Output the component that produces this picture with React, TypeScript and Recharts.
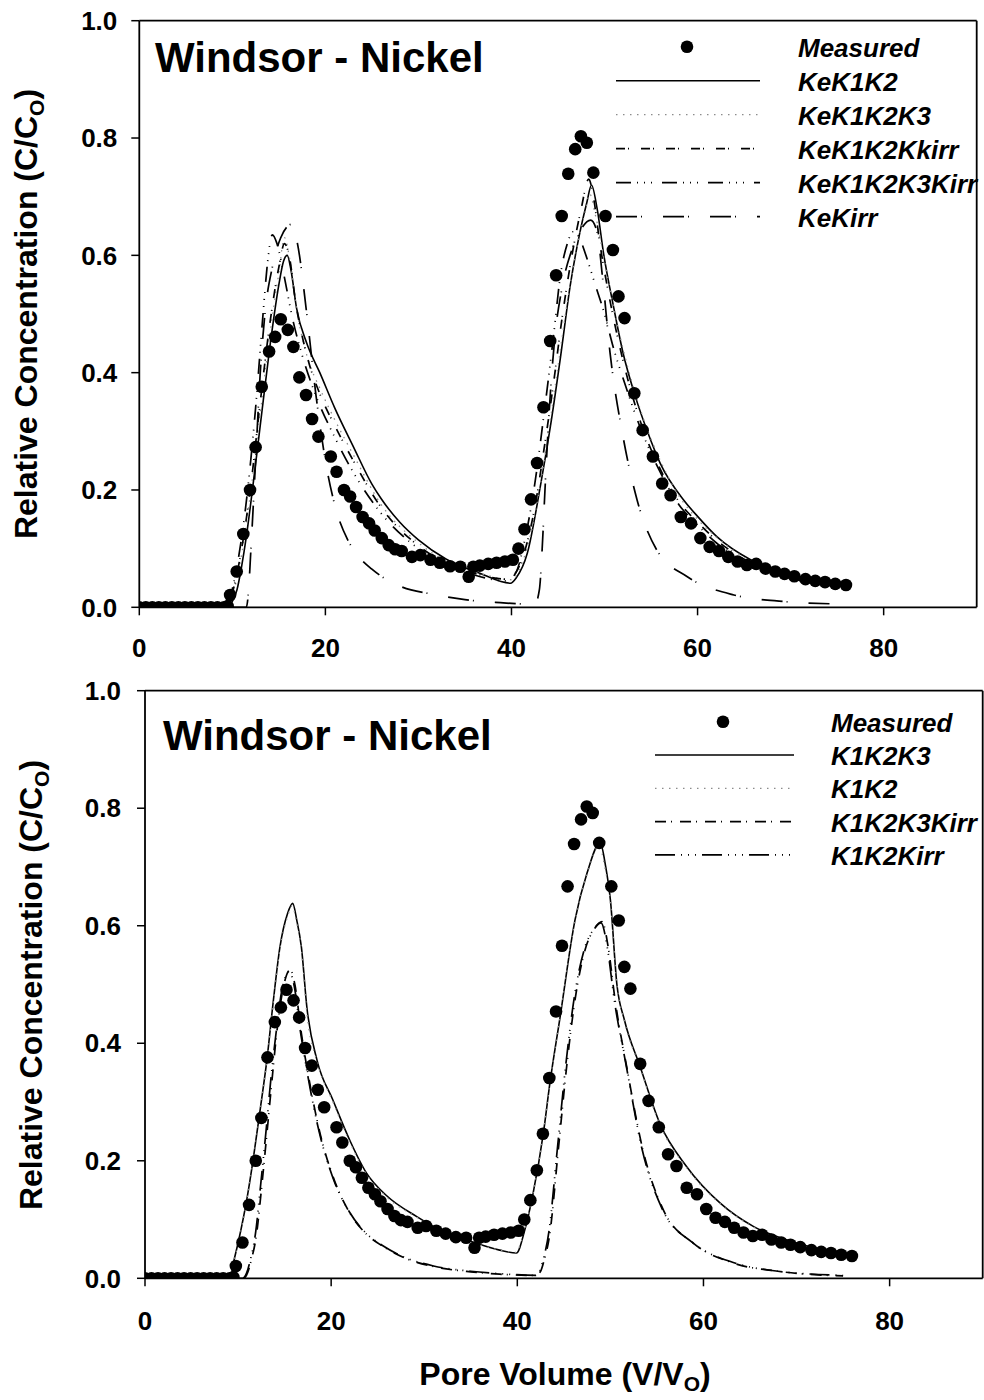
import { ComposedChart, Line, Scatter, XAxis, YAxis, ReferenceLine } from 'recharts';

type Pt = [number, number];

const xTicks = [0, 20, 40, 60, 80];
const yTicks = [0, 0.2, 0.4, 0.6, 0.8, 1.0];

// measured Ni breakthrough (same in both panels)
const measured: Pt[] = [
  [0, 0], [0.7, 0], [1.4, 0], [2.1, 0], [2.8, 0], [3.5, 0], [4.2, 0], [4.9, 0], [5.6, 0], [6.3, 0],
  [7.0, 0], [7.7, 0], [8.4, 0], [9.1, 0], [9.5, 0.002], [9.76, 0.021], [10.47, 0.061], [11.18, 0.125],
  [11.9, 0.2], [12.5, 0.273], [13.16, 0.376], [13.95, 0.436], [14.6, 0.461], [15.2, 0.491], [15.96, 0.473],
  [16.56, 0.444], [17.2, 0.392], [17.92, 0.362], [18.57, 0.321], [19.25, 0.291], [20.58, 0.257], [21.2, 0.231],
  [22.0, 0.2], [22.66, 0.189], [23.3, 0.171], [24.0, 0.154], [24.7, 0.143], [25.3, 0.131], [26.06, 0.118],
  [26.8, 0.106], [27.5, 0.099], [28.2, 0.096], [29.3, 0.086], [30.2, 0.089], [31.3, 0.081], [32.3, 0.076],
  [33.4, 0.07], [34.5, 0.069], [35.4, 0.052], [35.9, 0.069], [36.6, 0.071], [37.5, 0.074], [38.4, 0.076],
  [39.3, 0.078], [40.15, 0.081], [40.75, 0.1], [41.4, 0.133], [42.1, 0.184], [42.75, 0.246], [43.44, 0.341],
  [44.16, 0.454], [44.8, 0.566], [45.4, 0.667], [46.1, 0.739], [46.85, 0.781], [47.46, 0.803], [48.1, 0.792],
  [48.8, 0.741], [50.1, 0.667], [50.9, 0.609], [51.5, 0.53], [52.15, 0.493], [53.2, 0.365], [54.1, 0.302],
  [55.2, 0.257], [56.2, 0.211], [57.1, 0.191], [58.2, 0.154], [59.3, 0.143], [60.3, 0.118], [61.3, 0.103],
  [62.3, 0.096], [63.3, 0.086], [64.3, 0.078], [65.3, 0.072], [66.3, 0.074], [67.3, 0.066], [68.35, 0.061],
  [69.35, 0.057], [70.4, 0.053], [71.6, 0.048], [72.65, 0.045], [73.7, 0.043], [74.8, 0.04], [75.95, 0.038],
];

// top panel models
const keK1K2: Pt[] = [
  [0, 0], [9.5, 0], [10, 0.01], [10.5, 0.03], [11, 0.07], [11.5, 0.12], [12, 0.18], [13, 0.31], [14, 0.44],
  [15, 0.55], [15.5, 0.59], [15.9, 0.6], [16.3, 0.575], [16.9, 0.51], [18, 0.45], [19.4, 0.4], [21, 0.34],
  [23, 0.274], [25, 0.21], [26, 0.185], [28, 0.145], [30, 0.115], [33, 0.082], [36.6, 0.058], [39.9, 0.041],
  [40.5, 0.05], [41.7, 0.092], [43.1, 0.206], [44.2, 0.31], [45.3, 0.43], [46.3, 0.547], [47.3, 0.635],
  [48.1, 0.69], [48.6, 0.72], [49.2, 0.68], [49.9, 0.603], [51, 0.51], [52, 0.433], [53.3, 0.36], [54.6, 0.3],
  [56, 0.245], [58.5, 0.183], [60, 0.155], [62.1, 0.12], [65.7, 0.081], [70, 0.055], [75, 0.036],
];
const keK1K2K3: Pt[] = [
  [0, 0], [9.3, 0], [10, 0.02], [11, 0.09], [12, 0.2], [13, 0.33], [14, 0.46], [15, 0.57], [15.6, 0.63],
  [16.2, 0.59], [17, 0.5], [18, 0.43], [19.5, 0.37], [21, 0.32], [23, 0.26], [26, 0.175], [30, 0.11],
  [33, 0.078], [36.6, 0.058], [40, 0.047], [41, 0.07], [42, 0.12], [43, 0.2], [44, 0.3], [45, 0.41],
  [46, 0.52], [47, 0.61], [48, 0.68], [48.4, 0.705], [49, 0.67], [50, 0.59], [51, 0.51], [52, 0.44],
  [54, 0.33], [56, 0.25], [58, 0.19], [60, 0.15], [62, 0.12], [65, 0.085], [70, 0.054], [75, 0.035],
];
const keK1K2Kkirr: Pt[] = [
  [0, 0], [9.2, 0], [10, 0.025], [11, 0.1], [12, 0.21], [13, 0.35], [14, 0.48], [15, 0.58], [15.6, 0.62],
  [16.1, 0.6], [16.8, 0.52], [18, 0.43], [19.5, 0.36], [21, 0.31], [23, 0.25], [26, 0.17], [30, 0.105],
  [33, 0.075], [36, 0.058], [39.5, 0.048], [40.5, 0.06], [41.5, 0.1], [42.5, 0.17], [43.5, 0.27], [44.5, 0.38],
  [45.5, 0.5], [46.5, 0.6], [47.5, 0.68], [48.3, 0.73], [48.8, 0.7], [49.5, 0.62], [50.5, 0.53], [52, 0.42],
  [54, 0.31], [56, 0.235], [58, 0.18], [60, 0.145], [62, 0.115], [65, 0.082], [70, 0.052], [75, 0.034],
];
const keK1K2K3Kirr: Pt[] = [
  [0, 0], [9, 0], [9.8, 0.02], [10.5, 0.07], [11.5, 0.18], [12.5, 0.34], [13.3, 0.5], [13.8, 0.59],
  [14.3, 0.635], [14.8, 0.62], [15.5, 0.57], [16.5, 0.49], [17.5, 0.43], [19, 0.36], [21, 0.29], [23, 0.23],
  [26, 0.16], [30, 0.1], [33, 0.072], [36, 0.055], [39.5, 0.045], [40.5, 0.06], [41.5, 0.12], [42.5, 0.21],
  [43.5, 0.33], [44.5, 0.46], [45.3, 0.57], [46, 0.62], [46.6, 0.64], [47.3, 0.63], [48, 0.6], [49, 0.55],
  [50, 0.5], [51, 0.44], [52, 0.39], [54, 0.3], [56, 0.23], [58, 0.175], [60, 0.14], [62, 0.11], [65, 0.08],
  [70, 0.05], [75, 0.033],
];
const keKirr: Pt[] = [
  [0, 0], [11.5, 0], [11.7, 0.02], [12, 0.1], [12.5, 0.25], [13, 0.4], [13.5, 0.5], [14.3, 0.58], [15.2, 0.63],
  [16.4, 0.653], [17, 0.62], [18, 0.5], [19, 0.36], [20, 0.25], [21, 0.175], [22.4, 0.115], [23.4, 0.09],
  [25, 0.065], [26.6, 0.047], [28, 0.036], [31.6, 0.022], [35, 0.013], [38.8, 0.008], [42.5, 0.005],
  [43, 0.03], [43.3, 0.1], [43.6, 0.2], [44, 0.32], [44.6, 0.45], [45.5, 0.55], [46.5, 0.61], [47.5, 0.645],
  [48.5, 0.66], [49.2, 0.64], [49.8, 0.56], [50.6, 0.433], [52, 0.29], [53.5, 0.183], [55.6, 0.098],
  [58.9, 0.052], [63.9, 0.021], [69.2, 0.01], [74.3, 0.006],
];

// bottom panel models
const k1K2K3: Pt[] = [
  [0, 0], [9.2, 0], [9.5, 0.026], [10, 0.06], [11, 0.14], [11.6, 0.2], [12.4, 0.29], [13.1, 0.372],
  [13.8, 0.474], [14.5, 0.564], [15.3, 0.62], [15.87, 0.638], [16.3, 0.61], [16.8, 0.564], [17.4, 0.46],
  [18.5, 0.37], [20.2, 0.303], [22, 0.235], [23.8, 0.179], [26, 0.14], [29.2, 0.105], [32, 0.08],
  [34.6, 0.065], [38.1, 0.048], [39.9, 0.043], [40.8, 0.082], [41.7, 0.145], [42.8, 0.247], [43.5, 0.332],
  [44.6, 0.445], [46.2, 0.61], [47.5, 0.69], [48.9, 0.741], [49.5, 0.7], [50, 0.644], [50.7, 0.5],
  [51.5, 0.44], [53.2, 0.36], [55.3, 0.264], [58.2, 0.19], [61.8, 0.128], [65.4, 0.088], [70, 0.06], [75, 0.04],
];
const k1K2: Pt[] = [
  [0, 0], [9.1, 0], [9.5, 0.025], [10, 0.058], [11, 0.138], [11.6, 0.198], [12.4, 0.288], [13.1, 0.37],
  [13.8, 0.47], [14.5, 0.56], [15.3, 0.615], [15.8, 0.634], [16.3, 0.605], [16.8, 0.56], [17.4, 0.45],
  [18.5, 0.368], [20.2, 0.3], [22, 0.232], [23.8, 0.177], [26, 0.138], [29.2, 0.104], [32, 0.079],
  [34.6, 0.064], [38.1, 0.048], [39.8, 0.044], [40.8, 0.083], [41.7, 0.146], [42.8, 0.248], [43.5, 0.333],
  [44.6, 0.446], [46.2, 0.608], [47.5, 0.688], [48.8, 0.736], [49.4, 0.7], [50, 0.64], [50.7, 0.5],
  [51.5, 0.438], [53.2, 0.358], [55.3, 0.262], [58.2, 0.188], [61.8, 0.127], [65.4, 0.087], [70, 0.059], [75, 0.039],
];
const k1K2K3Kirr: Pt[] = [
  [0, 0], [10.6, 0], [10.9, 0.005], [11.4, 0.03], [12, 0.077], [12.5, 0.15], [13.1, 0.247], [13.6, 0.33],
  [14.15, 0.417], [14.8, 0.49], [15.6, 0.525], [16.1, 0.5], [16.8, 0.417], [17.7, 0.332], [18.8, 0.247],
  [20.2, 0.173], [22, 0.111], [23.8, 0.075], [25.6, 0.054], [28, 0.034], [31, 0.02], [35, 0.011], [38.1, 0.007],
  [42, 0.005], [42.5, 0.012], [42.8, 0.026], [43.5, 0.077], [44.4, 0.218], [45.3, 0.36], [46.2, 0.474],
  [47.3, 0.56], [48.3, 0.595], [49.1, 0.607], [49.8, 0.56], [50.5, 0.474], [51.75, 0.36], [53.5, 0.218],
  [55.7, 0.116], [58.9, 0.06], [63.2, 0.026], [68, 0.012], [75, 0.004],
];
const k1K2Kirr: Pt[] = [
  [0, 0], [10.5, 0], [10.8, 0.005], [11.3, 0.03], [11.9, 0.08], [12.4, 0.155], [13, 0.25], [13.5, 0.335],
  [14.1, 0.42], [14.7, 0.49], [15.5, 0.522], [16, 0.5], [16.7, 0.42], [17.6, 0.335], [18.7, 0.25], [20.1, 0.175],
  [22, 0.112], [23.8, 0.076], [25.6, 0.055], [28, 0.035], [31, 0.021], [35, 0.012], [38.1, 0.008], [42, 0.005],
  [42.4, 0.012], [42.7, 0.027], [43.4, 0.08], [44.3, 0.22], [45.2, 0.362], [46.1, 0.476], [47.2, 0.56],
  [48.2, 0.594], [49, 0.605], [49.7, 0.56], [50.4, 0.476], [51.7, 0.362], [53.4, 0.22], [55.6, 0.117],
  [58.8, 0.061], [63.2, 0.027], [68, 0.012], [75, 0.005],
];

const FONT = "'Liberation Sans', Arial, Helvetica, sans-serif";

const solid = { stroke: '#000', strokeWidth: 1.6 };
const dotted = { stroke: '#8c8c8c', strokeWidth: 1.3, strokeDasharray: '1.5 5.5' };
const shortDash = { stroke: '#000', strokeWidth: 1.7, strokeDasharray: '9 3 1 12' };
const dashDotDot = { stroke: '#000', strokeWidth: 1.7, strokeDasharray: '15 6 1 6 1 6 1 10' };
const longDash = { stroke: '#000', strokeWidth: 1.7, strokeDasharray: '21 4 1 21' };
const medDash = { stroke: '#000', strokeWidth: 1.7, strokeDasharray: '11 5 1 8' };
const longDashDots = { stroke: '#000', strokeWidth: 1.7, strokeDasharray: '20 6 1 6 1 6 1 6' };

type Series = { name: string; data: Pt[]; style: any };

const topSeries: Series[] = [
  { name: 'KeK1K2', data: keK1K2, style: solid },
  { name: 'KeK1K2K3', data: keK1K2K3, style: dotted },
  { name: 'KeK1K2Kkirr', data: keK1K2Kkirr, style: shortDash },
  { name: 'KeK1K2K3Kirr', data: keK1K2K3Kirr, style: dashDotDot },
  { name: 'KeKirr', data: keKirr, style: longDash },
];

const bottomSeries: Series[] = [
  { name: 'K1K2K3', data: k1K2K3, style: solid },
  { name: 'K1K2', data: k1K2, style: dotted },
  { name: 'K1K2K3Kirr', data: k1K2K3Kirr, style: medDash },
  { name: 'K1K2Kirr', data: k1K2Kirr, style: longDashDots },
];

const toRows = (pts: Pt[]) => pts.map(([x, y]) => ({ x, y }));

const tickStyle = { fontSize: 26, fontWeight: 'bold', fill: '#000', fontFamily: FONT };

const MeasuredDot = (props: any) => {
  const { cx, cy } = props;
  if (cx == null || cy == null) return null;
  return <circle cx={cx} cy={cy} r={6.3} fill="#000" />;
};

function Panel({ series, top, height, margin, xTickMargin, yTickMargin }: any) {
  return (
    <div style={{ position: 'absolute', left: 0, top }}>
      <ComposedChart width={984} height={height} margin={margin}>
        <XAxis
          type="number"
          dataKey="x"
          domain={[0, 90]}
          ticks={xTicks}
          allowDataOverflow
          height={40}
          tickSize={8}
          tickMargin={xTickMargin}
          axisLine={{ stroke: '#000', strokeWidth: 1.8 }}
          tickLine={{ stroke: '#000', strokeWidth: 1.5 }}
          tick={tickStyle}
        />
        <YAxis
          type="number"
          domain={[0, 1]}
          ticks={yTicks}
          allowDataOverflow
          width={60}
          tickSize={8}
          tickMargin={yTickMargin}
          tickFormatter={(v: number) => v.toFixed(1)}
          axisLine={{ stroke: '#000', strokeWidth: 1.8 }}
          tickLine={{ stroke: '#000', strokeWidth: 1.5 }}
          tick={tickStyle}
        />
        <ReferenceLine y={1} stroke="#000" strokeWidth={1.8} />
        <ReferenceLine x={90} stroke="#000" strokeWidth={1.8} />
        {series.map((s: Series) => (
          <Line
            key={s.name}
            name={s.name}
            data={toRows(s.data)}
            dataKey="y"
            type="monotone"
            dot={false}
            activeDot={false}
            isAnimationActive={false}
            {...s.style}
          />
        ))}
        <Scatter name="Measured" data={toRows(measured)} dataKey="y" shape={MeasuredDot} isAnimationActive={false} />
      </ComposedChart>
    </div>
  );
}

function LegendBlock({ series, lineX1, lineX2, dotX, textX, baseY, step }: any) {
  const rows = [{ name: 'Measured', style: null }, ...series];
  return (
    <g>
      {rows.map((r: any, i: number) => {
        const by = baseY + i * step;
        const cy = by - 10;
        return (
          <g key={r.name}>
            {r.style ? (
              <line x1={lineX1} x2={lineX2} y1={cy} y2={cy} {...r.style} />
            ) : (
              <circle cx={dotX} cy={cy} r={6.3} fill="#000" />
            )}
            <text x={textX} y={by} fontSize={26} fontWeight="bold" fontStyle="italic" fill="#000">
              {r.name}
            </text>
          </g>
        );
      })}
    </g>
  );
}

export default function App() {
  return (
    <div style={{ position: 'absolute', left: 0, top: 0, width: 984, height: 1400, background: '#fff', fontFamily: FONT }}>
      <Panel
        series={topSeries}
        top={0}
        height={680}
        margin={{ top: 20.7, right: 7.3, bottom: 32.7, left: 79.3 }}
        xTickMargin={23}
        yTickMargin={14}
      />
      <Panel
        series={bottomSeries}
        top={660}
        height={700}
        margin={{ top: 30.7, right: 1.3, bottom: 41.7, left: 85 }}
        xTickMargin={25}
        yTickMargin={16}
      />
      <svg width={984} height={1400} style={{ position: 'absolute', left: 0, top: 0, pointerEvents: 'none', fontFamily: FONT }}>
        <text x={155} y={71.7} fontSize={42} fontWeight="bold" fill="#000">Windsor - Nickel</text>
        <text x={163} y={750} fontSize={42} fontWeight="bold" fill="#000">Windsor - Nickel</text>

        <text transform="translate(37,314) rotate(-90)" textAnchor="middle" fontSize={32} fontWeight="bold" fill="#000">
          Relative Concentration (C/C<tspan fontSize={21} dy={7}>O</tspan><tspan dy={-7}>)</tspan>
        </text>
        <text transform="translate(42,985) rotate(-90)" textAnchor="middle" fontSize={32} fontWeight="bold" fill="#000">
          Relative Concentration (C/C<tspan fontSize={21} dy={7}>O</tspan><tspan dy={-7}>)</tspan>
        </text>
        <text x={565} y={1385} textAnchor="middle" fontSize={32} fontWeight="bold" fill="#000">
          Pore Volume (V/V<tspan fontSize={21} dy={6}>O</tspan><tspan dy={-6}>)</tspan>
        </text>

        <LegendBlock series={topSeries} lineX1={616} lineX2={760} dotX={687} textX={798} baseY={56.7} step={34} />
        <LegendBlock series={bottomSeries} lineX1={655} lineX2={794} dotX={723} textX={831} baseY={731.7} step={33.3} />
      </svg>
    </div>
  );
}
